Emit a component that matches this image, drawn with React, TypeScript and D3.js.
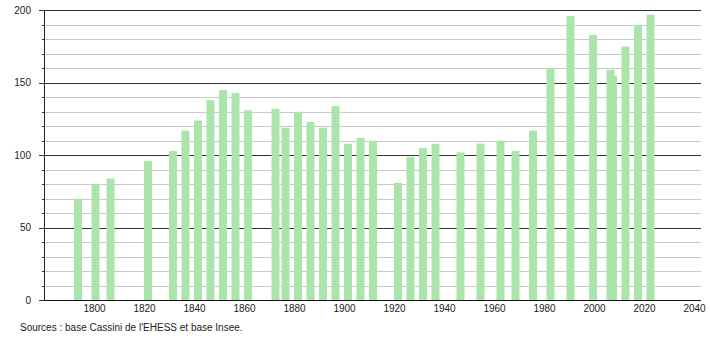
import React from "react";
import * as d3 from "d3";

const years = [1793, 1800, 1806, 1821, 1831, 1836, 1841, 1846, 1851, 1856, 1861, 1872, 1876, 1881, 1886, 1891, 1896, 1901, 1906, 1911, 1921, 1926, 1931, 1936, 1946, 1954, 1962, 1968, 1975, 1982, 1990, 1999, 2006, 2007, 2012, 2017, 2022];
const population = [70, 80, 84, 96, 103, 117, 124, 138, 145, 143, 131, 132, 119, 130, 123, 119, 134, 108, 112, 110, 81, 99, 105, 108, 102, 108, 110, 103, 117, 160, 196, 183, 159, 155, 175, 190, 197];
const xTickLabels = [1800, 1820, 1840, 1860, 1880, 1900, 1920, 1940, 1960, 1980, 2000, 2020, 2040];
const yMajorTicks = [0, 50, 100, 150, 200];
const yMinorTicks = [10, 20, 30, 40, 60, 70, 80, 90, 110, 120, 130, 140, 160, 170, 180, 190];
const sourceText = "Sources : base Cassini de l'EHESS et base Insee.";

const W = 710;
const H = 340;
const left = 44;
const right = 701;
const FONT = "'Liberation Sans', Arial, Helvetica, sans-serif";

export default function App() {
  const x = d3.scaleLinear().domain([1779.8, 2042.6]).range([left, right]);
  const y = d3.scaleLinear().domain([0, 200]).range([300.3, 10.3]);
  const barW = 8;
  const data = years.map((yr, i) => ({ yr, v: population[i] }));
  const py = (v: number) => Math.round(y(v)) + 0.5;

  return (
    <svg width={W} height={H} style={{ position: "absolute", left: 0, top: 0, background: "#fff" }}>
      <rect x={0} y={0} width={W} height={H} fill="#fff" />
      {yMinorTicks.map((t) => (
        <g key={"mi" + t}>
          <line x1={left} x2={right} y1={py(t)} y2={py(t)} stroke="#c8c8c8" strokeWidth={1} />
          <line x1={left - 2} x2={left} y1={py(t)} y2={py(t)} stroke="#333" strokeWidth={1} />
        </g>
      ))}
      {yMajorTicks.map((t) => (
        <g key={"ma" + t}>
          <line x1={left - 5} x2={right} y1={py(t)} y2={py(t)} stroke="#333" strokeWidth={1} />
          <text x={31} y={y(t) + 3.5} textAnchor="end" fontFamily={FONT} fontSize={10} fill="#222">
            {t}
          </text>
        </g>
      ))}
      {data.map((d) => (
        <rect
          key={d.yr}
          x={x(d.yr) + 1 - barW / 2}
          y={y(d.v)}
          width={barW}
          height={y(0) - y(d.v)}
          fill="#ace5ac"
        />
      ))}
      <line x1={left + 0.5} x2={left + 0.5} y1={py(200)} y2={py(0)} stroke="#222" strokeWidth={1} />
      <line x1={left} x2={right} y1={py(0)} y2={py(0)} stroke="#111" strokeWidth={1.2} />
      {xTickLabels.map((t) => (
        <text key={"x" + t} x={x(t)} y={312} textAnchor="middle" fontFamily={FONT} fontSize={10} fill="#222">
          {t}
        </text>
      ))}
      <text x={20} y={331} fontFamily={FONT} fontSize={10} fill="#222">
        {sourceText}
      </text>
    </svg>
  );
}
